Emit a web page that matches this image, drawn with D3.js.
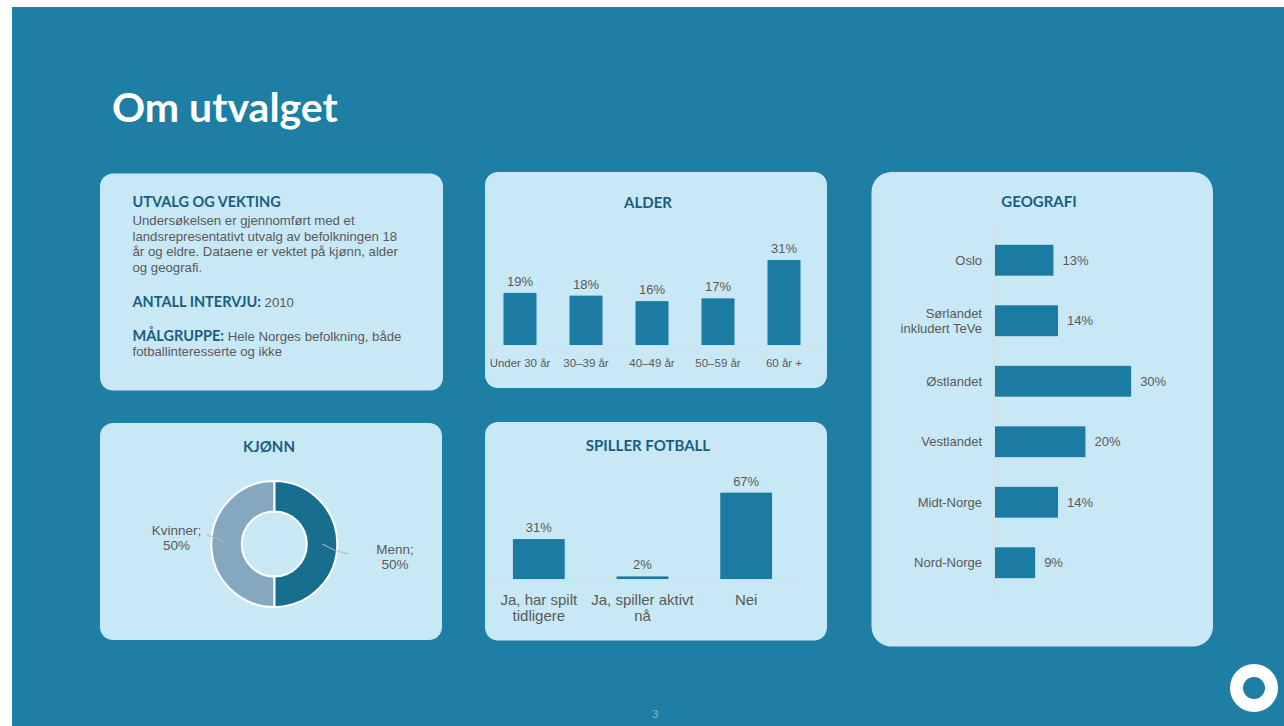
<!DOCTYPE html>
<html>
<head>
<meta charset="utf-8">
<script src="https://cdn.jsdelivr.net/npm/d3@7"></script>
<style>
  html, body { margin: 0; padding: 0; background: #ffffff; }
  svg { display: block; }
</style>
</head>
<body>
<svg id="chart" width="1284" height="726"></svg>
<script>
// ---------- DATA ----------
const pageTitle = "Om utvalget";

const ageCategories = ["Under 30 år", "30–39 år", "40–49 år", "50–59 år", "60 år +"];
const ageValues = [19, 18, 16, 17, 31];

const genderCategories = ["Menn", "Kvinner"];
const genderValues = [50, 50];

const playCategories = ["Ja, har spilt\ntidligere", "Ja, spiller aktivt\nnå", "Nei"];
const playValues = [31, 2, 67];

const regionCategories = ["Oslo", "Sørlandet\ninkludert TeVe", "Østlandet", "Vestlandet", "Midt-Norge", "Nord-Norge"];
const regionValues = [13, 14, 30, 20, 14, 9];

const infoHeading = "UTVALG OG VEKTING";
const infoLines = [
  "Undersøkelsen er gjennomført med et",
  "landsrepresentativt utvalg av befolkningen 18",
  "år og eldre. Dataene er vektet på kjønn, alder",
  "og geografi."
];
const intervjuLabel = "ANTALL INTERVJU:";
const intervjuValue = "2010";
const malgruppeLabel = "MÅLGRUPPE:";
const malgruppeLines = [" Hele Norges befolkning, både", "fotballinteresserte og ikke"];

// ---------- STYLE ----------
const BG = "#1e7ea3";
const CARD = "#c9e8f5";
const BAR = "#1c7ba3";
const HEAD = "#1a5e7f";
const GRAY = "#595959";
const AXIS = "#d6dde0";
const BODY_FONT = "'Liberation Sans', Arial, sans-serif";
const HEAD_FONT = "Lato, 'Open Sans', sans-serif";
const pct = d => d + "%";

const svg = d3.select("#chart");

svg.append("rect").attr("x", 12).attr("y", 7).attr("width", 1284 - 12).attr("height", 726 - 7).attr("fill", BG);

svg.append("text").attr("x", 112).attr("y", 122)
  .attr("font-family", HEAD_FONT).attr("font-weight", 700).attr("font-size", 41)
  .attr("fill", "#ffffff").text(pageTitle);

function card(x, y, w, h, r) {
  svg.append("rect").attr("x", x).attr("y", y).attr("width", w).attr("height", h)
    .attr("rx", r).attr("ry", r).attr("fill", CARD);
}
function heading(x, y, t, anchor) {
  return svg.append("text").attr("x", x).attr("y", y).attr("text-anchor", anchor || "middle")
    .attr("font-family", HEAD_FONT).attr("font-weight", 700).attr("font-size", 15)
    .attr("fill", HEAD).text(t);
}

// cards
card(100, 173.5, 343, 217, 13);
card(485, 172, 342, 216, 13);
card(100, 423, 342, 217, 13);
card(485, 422, 342, 218.5, 13);
card(871.5, 172, 341.5, 474.5, 20);

// ---------- INFO CARD ----------
heading(132.5, 207, infoHeading, "start").attr("font-size", 14.5);
const info = svg.append("text").attr("font-family", BODY_FONT).attr("font-size", 13.2).attr("fill", GRAY);
infoLines.forEach((l, i) => info.append("tspan").attr("x", 132.5).attr("y", 225 + i * 15.5).text(l));

const iv = svg.append("text").attr("x", 132.5).attr("y", 306.5);
iv.append("tspan").attr("font-family", HEAD_FONT).attr("font-weight", 700).attr("font-size", 14.5).attr("fill", HEAD).text(intervjuLabel);
iv.append("tspan").attr("font-family", BODY_FONT).attr("font-size", 13.2).attr("fill", GRAY).text(" " + intervjuValue);

const mg = svg.append("text").attr("x", 132.5).attr("y", 340.5);
mg.append("tspan").attr("font-family", HEAD_FONT).attr("font-weight", 700).attr("font-size", 14.5).attr("fill", HEAD).text(malgruppeLabel);
mg.append("tspan").attr("font-family", BODY_FONT).attr("font-size", 13.2).attr("fill", GRAY).text(malgruppeLines[0]);
svg.append("text").attr("x", 132.5).attr("y", 356).attr("font-family", BODY_FONT).attr("font-size", 13.2)
  .attr("fill", GRAY).text(malgruppeLines[1]);

// ---------- ALDER ----------
heading(648, 208, "ALDER");
{
  const x = d3.scaleBand().domain(ageCategories).range([487, 817]).paddingInner(0.5).paddingOuter(0.25);
  const y = d3.scaleLinear().domain([0, 35]).range([345, 249]);
  const g = svg.append("g");
  g.selectAll("rect.bar").data(ageValues).join("rect").attr("class", "bar")
    .attr("x", (d, i) => x(ageCategories[i])).attr("width", x.bandwidth())
    .attr("y", d => y(d)).attr("height", d => y(0) - y(d)).attr("fill", BAR);
  const ax = svg.append("g").attr("transform", "translate(0,345)")
    .call(d3.axisBottom(x).tickSize(0).tickPadding(0).tickFormat(""));
  ax.select(".domain").attr("stroke", AXIS).attr("stroke-width", 1);
  const bounds = d3.range(ageCategories.length + 1).map(i => 487 + i * x.step());
  g.selectAll("line.tk").data(bounds).join("line").attr("class", "tk")
    .attr("x1", d => d).attr("x2", d => d).attr("y1", 345).attr("y2", 349).attr("stroke", AXIS);
  g.selectAll("text.cat").data(ageCategories).join("text").attr("class", "cat")
    .attr("x", d => x(d) + x.bandwidth() / 2).attr("y", 366.5).attr("text-anchor", "middle")
    .attr("font-family", BODY_FONT).attr("font-size", 11.5).attr("fill", GRAY).text(d => d);
  g.selectAll("text.val").data(ageValues).join("text").attr("class", "val")
    .attr("x", (d, i) => x(ageCategories[i]) + x.bandwidth() / 2).attr("y", d => y(d) - 7)
    .attr("text-anchor", "middle").attr("font-family", BODY_FONT).attr("font-size", 13)
    .attr("fill", GRAY).text(pct);
}

// ---------- KJØNN ----------
heading(269, 452, "KJØNN");
{
  const cx = 274.3, cy = 544;
  const pie = d3.pie().sort(null).value(d => d)(genderValues);
  const arc = d3.arc().innerRadius(32.5).outerRadius(63);
  const colors = ["#176e8f", "#86a8be"];
  const g = svg.append("g").attr("transform", `translate(${cx},${cy})`);
  g.selectAll("path").data(pie).join("path").attr("d", arc)
    .attr("fill", (d, i) => colors[i]).attr("stroke", "#ffffff").attr("stroke-width", 2);
  // leader lines
  const leader = [
    "M322,544 Q336,552 348,554",
    "M225.7,543.3 Q216,537 206.7,535"
  ];
  svg.selectAll("path.leader").data(leader).join("path").attr("class", "leader")
    .attr("d", d => d).attr("fill", "none").attr("stroke", "#b8b8b8").attr("stroke-width", 1);
  const labelPos = [[395, 553.5], [176.5, 534.5]];
  genderCategories.forEach((c, i) => {
    const t = svg.append("text").attr("text-anchor", "middle").attr("font-family", BODY_FONT)
      .attr("font-size", 13.5).attr("fill", GRAY);
    t.append("tspan").attr("x", labelPos[i][0]).attr("y", labelPos[i][1]).text(c + ";");
    t.append("tspan").attr("x", labelPos[i][0]).attr("y", labelPos[i][1] + 15).text(pct(genderValues[i]));
  });
}

// ---------- SPILLER FOTBALL ----------
heading(648, 451, "SPILLER FOTBALL");
{
  const x = d3.scaleBand().domain(playCategories).range([487, 798]).paddingInner(0.5).paddingOuter(0.25);
  const y = d3.scaleLinear().domain([0, 70]).range([579, 488.8]);
  const g = svg.append("g");
  g.selectAll("rect.bar").data(playValues).join("rect").attr("class", "bar")
    .attr("x", (d, i) => x(playCategories[i])).attr("width", x.bandwidth())
    .attr("y", d => y(d)).attr("height", d => y(0) - y(d)).attr("fill", BAR);
  const ax = svg.append("g").attr("transform", "translate(0,579)")
    .call(d3.axisBottom(x).tickSize(0).tickFormat(""));
  ax.select(".domain").attr("stroke", AXIS).attr("stroke-width", 1);
  const bounds = d3.range(playCategories.length + 1).map(i => 487 + i * x.step());
  g.selectAll("line.tk").data(bounds).join("line").attr("class", "tk")
    .attr("x1", d => d).attr("x2", d => d).attr("y1", 579).attr("y2", 583).attr("stroke", AXIS);
  playCategories.forEach(c => {
    const t = g.append("text").attr("text-anchor", "middle").attr("font-family", BODY_FONT)
      .attr("font-size", 15).attr("fill", GRAY);
    c.split("\n").forEach((l, j) => t.append("tspan").attr("x", x(c) + x.bandwidth() / 2)
      .attr("y", 604.5 + j * 16).text(l));
  });
  g.selectAll("text.val").data(playValues).join("text").attr("class", "val")
    .attr("x", (d, i) => x(playCategories[i]) + x.bandwidth() / 2).attr("y", d => y(d) - 7)
    .attr("text-anchor", "middle").attr("font-family", BODY_FONT).attr("font-size", 13)
    .attr("fill", GRAY).text(pct);
}

// ---------- GEOGRAFI ----------
heading(1039, 207, "GEOGRAFI");
{
  const y = d3.scaleBand().domain(regionCategories).range([230, 593]).paddingInner(0.49).paddingOuter(0.245);
  const x = d3.scaleLinear().domain([0, 35]).range([994, 1154]);
  const g = svg.append("g");
  g.selectAll("rect.bar").data(regionValues).join("rect").attr("class", "bar")
    .attr("y", (d, i) => y(regionCategories[i])).attr("height", y.bandwidth())
    .attr("x", x(0)).attr("width", d => x(d) - x(0)).attr("fill", BAR);
  const ax = svg.append("g").attr("transform", "translate(994,0)")
    .call(d3.axisLeft(y).tickSize(0).tickFormat(""));
  ax.select(".domain").attr("stroke", AXIS).attr("stroke-width", 1);
  const bounds = d3.range(regionCategories.length + 1).map(i => 230 + i * y.step());
  g.selectAll("line.tk").data(bounds).join("line").attr("class", "tk")
    .attr("x1", 990).attr("x2", 994).attr("y1", d => d).attr("y2", d => d).attr("stroke", AXIS);
  regionCategories.forEach(c => {
    const lines = c.split("\n");
    const cy = y(c) + y.bandwidth() / 2;
    const t = g.append("text").attr("text-anchor", "end").attr("font-family", BODY_FONT)
      .attr("font-size", 13).attr("fill", GRAY);
    lines.forEach((l, j) => t.append("tspan").attr("x", 982)
      .attr("y", cy + 4.6 + (j - (lines.length - 1) / 2) * 14.5).text(l));
  });
  g.selectAll("text.val").data(regionValues).join("text").attr("class", "val")
    .attr("y", (d, i) => y(regionCategories[i]) + y.bandwidth() / 2 + 4.6).attr("x", d => x(d) + 9)
    .attr("font-family", BODY_FONT).attr("font-size", 13).attr("fill", GRAY).text(pct);
}

// ---------- LOGO & PAGE NUMBER ----------
svg.append("circle").attr("cx", 1254).attr("cy", 688).attr("r", 17.5)
  .attr("fill", "none").attr("stroke", "#ffffff").attr("stroke-width", 13);
svg.append("text").attr("x", 655).attr("y", 718).attr("text-anchor", "middle")
  .attr("font-family", BODY_FONT).attr("font-size", 11).attr("fill", "#8fb3c4").text("3");
</script>
</body>
</html>
